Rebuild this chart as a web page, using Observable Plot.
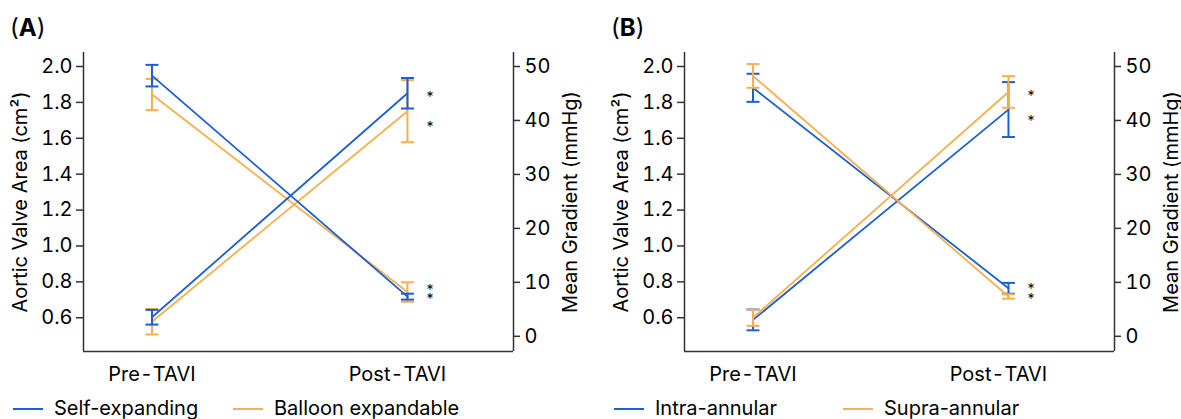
<!DOCTYPE html>
<html>
<head>
<meta charset="utf-8">
<script src="https://cdn.jsdelivr.net/npm/d3@7"></script>
<script src="https://cdn.jsdelivr.net/npm/@observablehq/plot@0.6"></script>
<style>
  html, body { margin: 0; padding: 0; background: #fff; overflow: hidden; }
  body { font-family: Inter, "Liberation Sans", sans-serif; color: #000; }
  #wrap { position: relative; width: 1181px; height: 419px; overflow: hidden; }
  .panel { position: absolute; top: 0; width: 601px; height: 419px; }
  .title { position: absolute; left: 10px; top: 14px; font-size: 24px; line-height: 28px; }
  .title b { font-weight: 700; }
  .plot { position: absolute; left: 0; top: 40px; }
  .sw { position: absolute; top: 408px; width: 30px; height: 2px; }
  .lt { position: absolute; top: 396px; font-size: 20px; line-height: 24px; white-space: nowrap; }
</style>
</head>
<body>
<div id="wrap"></div>
<script>
// ---------- data ----------
const times = ["Pre-TAVI", "Post-TAVI"];
const colors = ["#1b5fd3", "#f6b04f"];

const avaTicks = [0.6, 0.8, 1.0, 1.2, 1.4, 1.6, 1.8, 2.0];
const gradTicks = [0, 10, 20, 30, 40, 50];

// Panel A
const seriesA = ["Self-expanding", "Balloon expandable"];
const avaMeanA = [[0.603, 1.851], [0.578, 1.751]];
const avaErrA  = [[0.041, 0.085], [0.071, 0.173]];
const gradMeanA = [[48.3, 7.35], [44.8, 8.2]];
const gradErrA  = [[2.0, 0.55], [2.9, 1.8]];
const starAvaA = [1.848, 1.684];
const starGradA = [8.94, 7.28];

// Panel B
const seriesB = ["Intra-annular", "Supra-annular"];
const avaMeanB = [[0.588, 1.760], [0.600, 1.858]];
const avaErrB  = [[0.058, 0.153], [0.045, 0.088]];
const gradMeanB = [[46.05, 8.9], [48.25, 7.38]];
const gradErrB  = [[2.6, 1.0], [2.2, 0.4]];
const starAvaB = [1.857, 1.714];
const starGradB = [9.26, 7.41];

// ---------- dual-axis mapping (gradient -> AVA units) ----------
const K = 5.4 / 179.6;                 // AVA units per mmHg
const toLeft = g => 2.0 - (50 - g) * K;
const fromLeft = v => 50 - (2.0 - v) / K;

const yDomain = [0.412, 2.078];
const xDomain = [-0.268, 1.415];

const capSymbol = {
  draw(ctx, size) {
    const r = Math.sqrt(size / Math.PI);
    ctx.moveTo(-r, 0);
    ctx.lineTo(r, 0);
  }
};

function seriesMarks(rows, color) {
  return [
    Plot.line(rows, {x: "xi", y: "m", stroke: color, strokeWidth: 1.8}),
    Plot.ruleX(rows, {x: "xi", y1: d => d.m - d.e, y2: d => d.m + d.e, stroke: color, strokeWidth: 2}),
    Plot.dot(rows, {x: "xi", y: d => d.m - d.e, symbol: capSymbol, r: 6.5, stroke: color, fill: "none", strokeWidth: 2}),
    Plot.dot(rows, {x: "xi", y: d => d.m + d.e, symbol: capSymbol, r: 6.5, stroke: color, fill: "none", strokeWidth: 2})
  ];
}

function makePanel({series, avaMean, avaErr, gradMean, gradErr, starAva, starGrad, order}) {
  const marks = [];
  for (const i of order) {
    const ava = times.map((t, j) => ({series: series[i], time: t, xi: j, m: avaMean[i][j], e: avaErr[i][j]}));
    const grad = times.map((t, j) => ({series: series[i], time: t, xi: j, m: toLeft(gradMean[i][j]), e: gradErr[i][j] * K}));
    marks.push(...seriesMarks(ava, colors[i]), ...seriesMarks(grad, colors[i]));
  }
  // AVA stars are far apart: one text each; the two gradient stars sit close together: one two-line text
  const gStarTop = toLeft(starGrad[0]), gStarBot = toLeft(starGrad[1]);
  const gapPx = (gStarTop - gStarBot) / K * 5.4;
  return Plot.plot({
    width: 601,
    height: 350,
    marginLeft: 83,
    marginRight: 88,
    marginTop: 12,
    marginBottom: 39,
    style: {fontFamily: "Inter, 'Liberation Sans', sans-serif", fontSize: "20px", background: "white", color: "black", overflow: "visible"},
    x: {type: "linear", domain: xDomain},
    y: {type: "linear", domain: yDomain},
    marks: [
      Plot.ruleX(xDomain, {stroke: "#333", strokeWidth: 1.5}),
      Plot.ruleY([yDomain[0]], {stroke: "#333", strokeWidth: 1.5}),
      Plot.axisY(avaTicks, {anchor: "left", tickSize: 7, tickPadding: 4, tickFormat: d3.format(".1f"),
        stroke: "#333", strokeWidth: 1.5, fill: "black",
        label: "Aortic Valve Area (cm²)", labelAnchor: "center", labelOffset: 71, labelArrow: "none"}),
      Plot.axisY(gradTicks.map(toLeft), {anchor: "right", tickSize: 6, tickPadding: 5,
        tickFormat: v => String(Math.round(fromLeft(v))),
        stroke: "#333", strokeWidth: 1.5, fill: "black",
        label: "Mean Gradient (mmHg)", labelAnchor: "center", labelOffset: 63, labelArrow: "none"}),
      Plot.axisX([0], {anchor: "bottom", tickSize: 0, tickPadding: 15, tickFormat: i => times[i], label: null, fill: "black"}),
      Plot.axisX([1], {anchor: "bottom", tickSize: 0, tickPadding: 15, tickFormat: i => times[i], label: null, fill: "black", dx: -10}),
      ...marks,
      Plot.text(starAva, {x: 1, y: d => d, text: () => "*", dx: 22.5, dy: 4, fontSize: 14, fill: "black"}),
      Plot.text([(gStarTop + gStarBot) / 2], {x: 1, y: d => d, text: () => "*\n*", lineHeight: gapPx / 14,
        dx: 22.5, dy: 4, fontSize: 14, fill: "black"})
    ]
  });
}

function buildPanel(left, letter, cfg, legendPos) {
  const p = document.createElement("div");
  p.className = "panel";
  p.style.left = left + "px";
  p.innerHTML = `<div class="title">(<b>${letter}</b>)</div>`;
  const plotDiv = document.createElement("div");
  plotDiv.className = "plot";
  plotDiv.appendChild(makePanel(cfg));
  p.appendChild(plotDiv);
  cfg.series.forEach((s, i) => {
    const sw = document.createElement("div");
    sw.className = "sw";
    sw.style.left = legendPos[i] + "px";
    sw.style.background = colors[i];
    const lt = document.createElement("div");
    lt.className = "lt";
    lt.style.left = (legendPos[i] + 41) + "px";
    lt.textContent = s;
    p.appendChild(sw);
    p.appendChild(lt);
  });
  document.getElementById("wrap").appendChild(p);
}

buildPanel(0, "A", {series: seriesA, avaMean: avaMeanA, avaErr: avaErrA, gradMean: gradMeanA, gradErr: gradErrA,
  starAva: starAvaA, starGrad: starGradA, order: [1, 0]}, [13, 233]);
buildPanel(601, "B", {series: seriesB, avaMean: avaMeanB, avaErr: avaErrB, gradMean: gradMeanB, gradErr: gradErrB,
  starAva: starAvaB, starGrad: starGradB, order: [0, 1]}, [13, 242]);
</script>
</body>
</html>
